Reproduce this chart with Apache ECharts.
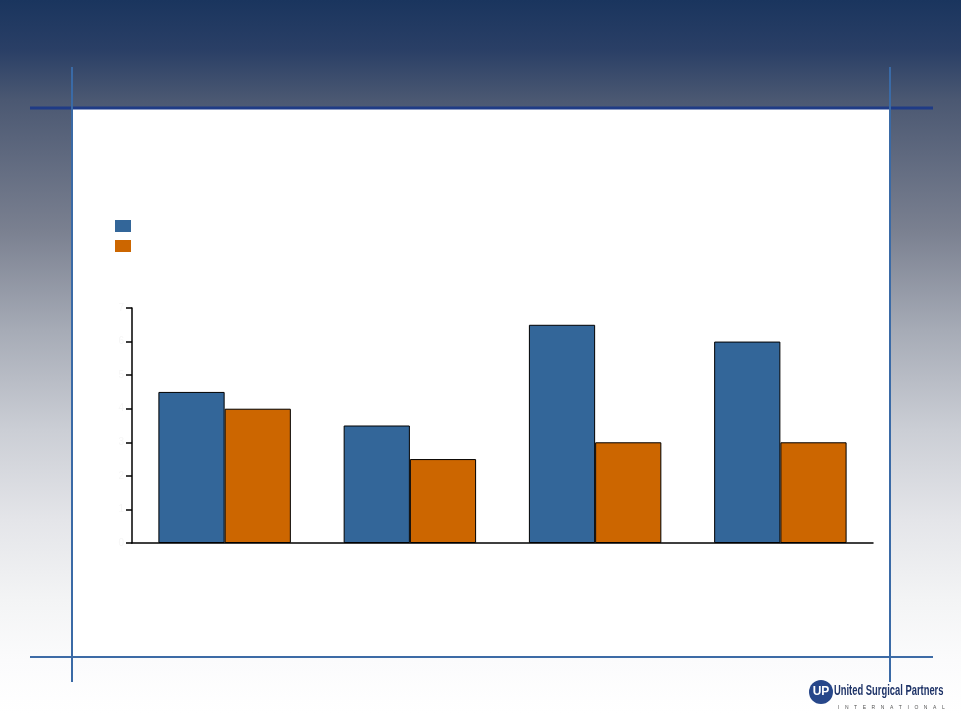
<!DOCTYPE html>
<html>
<head>
<meta charset="utf-8">
<script src="https://cdn.jsdelivr.net/npm/echarts@6/dist/echarts.min.js"></script>
<style>
html,body{margin:0;padding:0;}
body{width:961px;height:713px;overflow:hidden;
background:linear-gradient(to bottom,#1a355e 0px,#2a3f66 50px,#4b5872 100px,#7a8090 230px,#a6abb6 330px,#cbced5 430px,#e4e5e9 520px,#f3f4f5 600px,#fbfbfc 660px,#ffffff 713px);}
#c{width:961px;height:713px;}
</style>
</head>
<body>
<div id="c"></div>
<script>
var categories = ['Category 1', 'Category 2', 'Category 3', 'Category 4'];
var seriesNames = ['Series 1', 'Series 2'];
var seriesA = [4.5, 3.5, 6.5, 6.0];
var seriesB = [4.0, 2.5, 3.0, 3.0];
var yTicks = [0, 1, 2, 3, 4, 5, 6, 7];

var chart = echarts.init(document.getElementById('c'), null, {renderer: 'canvas'});
chart.setOption({
  backgroundColor: 'transparent',
  animation: false,
  graphic: [
    {type: 'rect', z: -10, shape: {x: 73, y: 109, width: 816, height: 548}, style: {fill: '#ffffff'}},
    {type: 'line', z: -5, shape: {x1: 30, y1: 108, x2: 933, y2: 108}, style: {stroke: '#1f3b86', lineWidth: 3}},
    {type: 'line', z: -5, shape: {x1: 30, y1: 657, x2: 933, y2: 657}, style: {stroke: '#3d6ba6', lineWidth: 2}},
    {type: 'line', z: -4, shape: {x1: 72, y1: 67, x2: 72, y2: 682}, style: {stroke: '#3a6aa6', lineWidth: 2}},
    {type: 'line', z: -4, shape: {x1: 890, y1: 67, x2: 890, y2: 682}, style: {stroke: '#3a6aa6', lineWidth: 2}},
    {type: 'circle', shape: {cx: 821, cy: 692, r: 12}, style: {fill: '#27478a'}},
    {type: 'text', style: {x: 821, y: 692, text: 'UP', fill: '#ffffff', font: 'bold 12px "Liberation Sans"', textAlign: 'center', textVerticalAlign: 'middle'}},
    {type: 'text', x: 834, y: 698, scaleX: 0.67, style: {x: 0, y: 0, text: 'United Surgical Partners', fill: '#1f3468', font: 'bold 14px "Liberation Sans", sans-serif', textAlign: 'left', textVerticalAlign: 'bottom'}},
    {type: 'text', style: {x: 838, y: 708, text: 'I    N    T    E    R    N    A    T    I    O    N    A    L', fill: '#555555', font: '5px "Liberation Sans"', textAlign: 'left', textVerticalAlign: 'middle'}}
  ],
  legend: {
    data: seriesNames,
    orient: 'vertical',
    left: 115,
    top: 220,
    padding: 0,
    itemWidth: 16,
    itemHeight: 12,
    itemGap: 8,
    icon: 'rect',
    itemStyle: {borderWidth: 0},
    textStyle: {color: '#ffffff', fontSize: 12, fontFamily: 'Liberation Sans'}
  },
  grid: {left: 132, right: 88, top: 308, bottom: 170, containLabel: false},
  xAxis: {
    type: 'category',
    data: categories,
    axisLine: {lineStyle: {color: '#000000', width: 1.5}},
    axisTick: {show: false},
    axisLabel: {color: '#ffffff', fontSize: 12}
  },
  yAxis: {
    type: 'value',
    min: 0,
    max: 7,
    interval: 1,
    splitLine: {show: false},
    axisLine: {show: true, lineStyle: {color: '#000000', width: 1.5}},
    axisTick: {show: true, length: 6, lineStyle: {color: '#000000', width: 1.5}},
    axisLabel: {color: '#f6f6f6', fontSize: 10, formatter: function (v) { return yTicks.indexOf(v) >= 0 ? String(v) : ''; }}
  },
  series: [
    {name: seriesNames[0], type: 'bar', data: seriesA, barGap: '0%', barCategoryGap: '28.5%',
     itemStyle: {color: '#336699', borderColor: '#000000', borderWidth: 1}},
    {name: seriesNames[1], type: 'bar', data: seriesB, barGap: '0%', barCategoryGap: '28.5%',
     itemStyle: {color: '#cc6600', borderColor: '#000000', borderWidth: 1}}
  ]
});
</script>
</body>
</html>
